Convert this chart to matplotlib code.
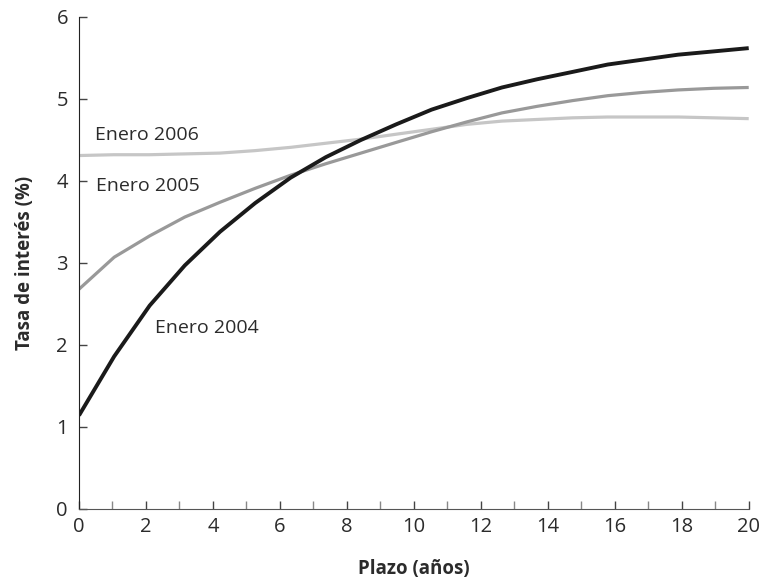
import matplotlib.pyplot as plt

# datos
plazo = [0, 1.05, 2.11, 3.16, 4.21, 5.26, 6.32, 7.37, 8.42, 9.47,
         10.53, 11.58, 12.63, 13.68, 14.74, 15.79, 16.84, 17.89, 18.95, 20]
enero_2004 = [1.14, 1.86, 2.48, 2.97, 3.38, 3.73, 4.04, 4.29, 4.50, 4.69,
              4.87, 5.01, 5.14, 5.24, 5.33, 5.42, 5.48, 5.54, 5.58, 5.62]
enero_2005 = [2.68, 3.07, 3.33, 3.56, 3.74, 3.91, 4.07, 4.21, 4.34, 4.47,
              4.60, 4.72, 4.83, 4.91, 4.98, 5.04, 5.08, 5.11, 5.13, 5.14]
enero_2006 = [4.31, 4.32, 4.32, 4.33, 4.34, 4.37, 4.41, 4.46, 4.51, 4.57,
              4.63, 4.69, 4.73, 4.75, 4.77, 4.78, 4.78, 4.78, 4.77, 4.76]

plt.rcParams['font.family'] = ['Open Sans', 'DejaVu Sans']
txt = '#2b2b2b'

fig = plt.figure(figsize=(7.64, 5.85), dpi=100)
ax = fig.add_axes([0.1034, 0.130, 0.8766, 0.841])

ax.plot(plazo, enero_2006, color='#c6c6c6', lw=2.3, solid_capstyle='butt')
ax.plot(plazo, enero_2005, color='#999999', lw=2.3, solid_capstyle='butt')
ax.plot(plazo, enero_2004, color='#1a1a1a', lw=2.8, solid_capstyle='butt')

# etiquetas de las curvas
ax.text(0.47, 4.56, 'Enero 2006', fontsize=14, color=txt, ha='left', va='center')
ax.text(0.50, 3.94, 'Enero 2005', fontsize=14, color=txt, ha='left', va='center')
ax.text(2.27, 2.21, 'Enero 2004', fontsize=14, color=txt, ha='left', va='center')

ax.set_xlim(0, 20)
ax.set_ylim(0, 6)
ax.set_xticks(range(0, 21, 2))
ax.set_xticks(range(0, 21), minor=True)
ax.set_yticks(range(0, 7))
ax.spines['top'].set_visible(False)
ax.spines['right'].set_visible(False)
ax.spines['left'].set_color('#222222')
ax.spines['bottom'].set_color('#555555')
ax.tick_params(axis='both', direction='in', length=5.5, width=1, colors='#444444',
               labelcolor=txt, labelsize=14.5)
ax.tick_params(axis='x', which='minor', direction='in', length=5.5, width=1, colors='#888888')
ax.tick_params(axis='x', pad=6)
ax.tick_params(axis='y', pad=8)

ax.set_xlabel('Plazo (años)', fontsize=13.5, fontweight='bold', color=txt, va='center')
ax.set_ylabel('Tasa de interés (%)', fontsize=13.5, fontweight='bold', color=txt, va='center')
ax.xaxis.set_label_coords(0.5, -0.122)
ax.yaxis.set_label_coords(-0.081, 0.5)

fig.savefig('out.png', dpi=100)
